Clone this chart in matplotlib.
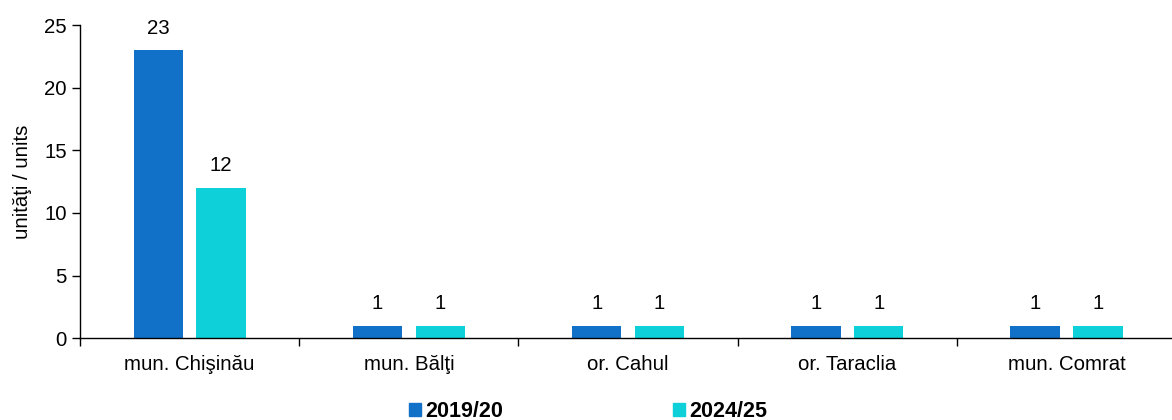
import matplotlib
matplotlib.use("Agg")
import matplotlib.pyplot as plt
import numpy as np
from matplotlib.patches import Patch

plt.rcParams['font.family'] = ['Liberation Sans', 'DejaVu Sans']

categories = ["mun. Chişinău", "mun. Bălţi", "or. Cahul", "or. Taraclia", "mun. Comrat"]
series_names = ["2019/20", "2024/25"]
values_2019 = [23, 1, 1, 1, 1]
values_2024 = [12, 1, 1, 1, 1]
colors = ["#1170C8", "#0DD0D8"]

fs = 14.7
fig = plt.figure(figsize=(11.72, 4.2), dpi=100)
ax = fig.add_axes([0.0683, 0.195, 0.9352, 0.745])

x = np.arange(len(categories))
w = 0.225
off = 0.143
b1 = ax.bar(x - off, values_2019, w, color=colors[0])
b2 = ax.bar(x + off, values_2024, w, color=colors[1])
for bars in (b1, b2):
    for r in bars:
        ax.annotate(f"{int(r.get_height())}", (r.get_x() + r.get_width() / 2, r.get_height()),
                    xytext=(0, 9), textcoords="offset points", ha="center", va="bottom", fontsize=fs)

ax.set_xlim(-0.5, len(categories) - 0.5)
ax.set_ylim(0, 25)
ax.set_yticks([0, 5, 10, 15, 20, 25])
ax.set_xticks(x)
ax.set_xticklabels(categories)
ax.set_xticks(np.arange(-0.5, len(categories) + 0.5, 1), minor=True)
ax.tick_params(axis='x', which='major', length=0, pad=12, labelsize=fs)
ax.tick_params(axis='x', which='minor', length=6, direction='out', width=1)
ax.tick_params(axis='y', length=6, direction='out', labelsize=fs, width=1)
for s in ['top', 'right']:
    ax.spines[s].set_visible(False)
ax.spines['left'].set_linewidth(1)
ax.spines['bottom'].set_linewidth(1)
ax.set_ylabel("unităţi / units", fontsize=fs, labelpad=9)

handles = [Patch(color=colors[0]), Patch(color=colors[1])]
fig.legend(handles, series_names, loc='center', bbox_to_anchor=(0.502, 0.02), ncol=2,
           frameon=False, handlelength=0.55, handleheight=0.55, handletextpad=0.2,
           columnspacing=7.9, prop={'weight': 'bold', 'size': 15.5})

fig.savefig("out.png", dpi=100)
